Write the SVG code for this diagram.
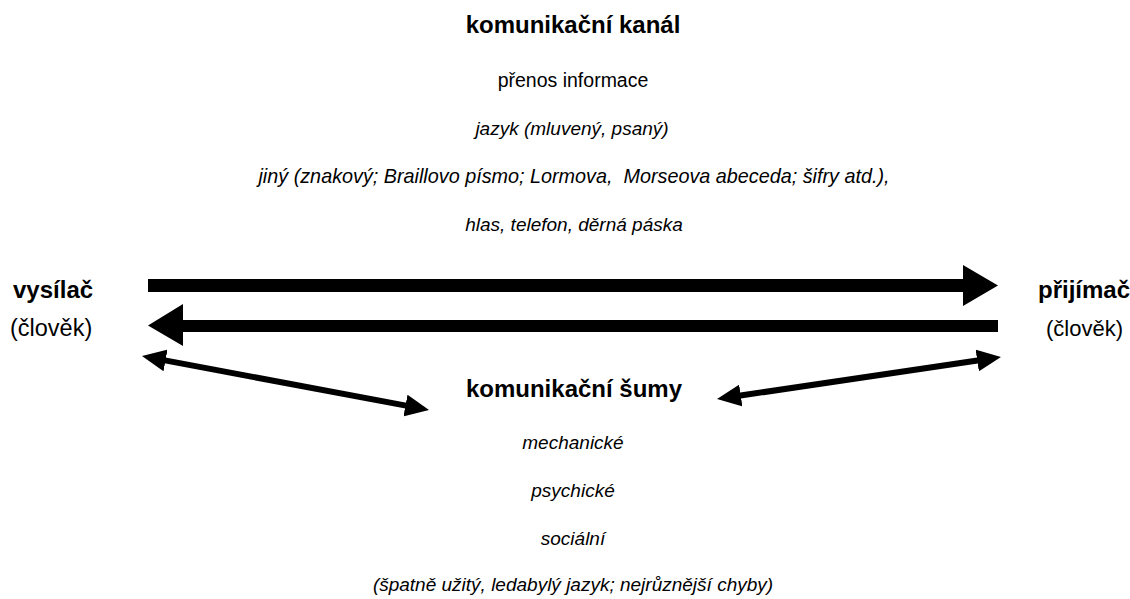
<svg xmlns="http://www.w3.org/2000/svg" width="1130" height="599" viewBox="0 0 1130 599">
<style>
text{font-family:"Liberation Sans",Arial,Helvetica,sans-serif;fill:#000}
.b{font-weight:bold;font-size:24px}
.r{font-size:19px}
.big{font-size:23.5px}
.i{font-size:19px;font-style:italic}
.c{text-anchor:middle}
.fat{fill:#000;stroke:none}
.thin{stroke:#000;stroke-width:6;fill:none;marker-start:url(#h);marker-end:url(#h)}
</style>
<defs>
<marker id="h" viewBox="0 0 24 22" markerWidth="24" markerHeight="22" refX="2" refY="11" orient="auto-start-reverse" markerUnits="userSpaceOnUse">
<path d="M0,0 L24,11 L0,22 Z" fill="#000"/>
</marker>
</defs>
<rect width="1130" height="599" fill="#fff"/>
<g id="channel">
<text class="b c" x="573" y="33">komunikační kanál</text>
<text class="r c" x="573" y="87" style="font-size:19.5px">přenos informace</text>
<text class="i c" x="572" y="135">jazyk (mluvený, psaný)</text>
<text class="i c" x="574" y="183" style="font-size:19.8px" xml:space="preserve">jiný (znakový; Braillovo písmo; Lormova,  Morseova abeceda; šifry atd.),</text>
<text class="i c" x="574" y="231">hlas, telefon, děrná páska</text>
</g>
<g id="sender">
<text class="b" x="13" y="298">vysílač</text>
<text class="big" x="10" y="336">(člověk)</text>
</g>
<g id="receiver">
<text class="b" x="1038" y="298">přijímač</text>
<text class="big" x="1123" y="336" text-anchor="end" style="font-size:22px">(člověk)</text>
</g>
<g id="noise">
<text class="b c" x="574" y="397">komunikační šumy</text>
<text class="i c" x="573" y="449">mechanické</text>
<text class="i c" x="573" y="497">psychické</text>
<text class="i c" x="573" y="545">sociální</text>
<text class="i c" x="573" y="591">(špatně užitý, ledabylý jazyk; nejrůznější chyby)</text>
</g>
<g id="connectors">
<path class="fat" d="M148,279 L963,279 L963,265 L998,285.5 L963,306 L963,292 L148,292 Z"/>
<path class="fat" d="M998,320 L183,320 L183,304 L148,325.5 L183,346 L183,332 L998,332 Z"/>
<line class="thin" x1="163.6" y1="360.1" x2="407.4" y2="405.9"/>
<line class="thin" x1="738.8" y1="395.8" x2="979.2" y2="360.2"/>
</g>
</svg>
